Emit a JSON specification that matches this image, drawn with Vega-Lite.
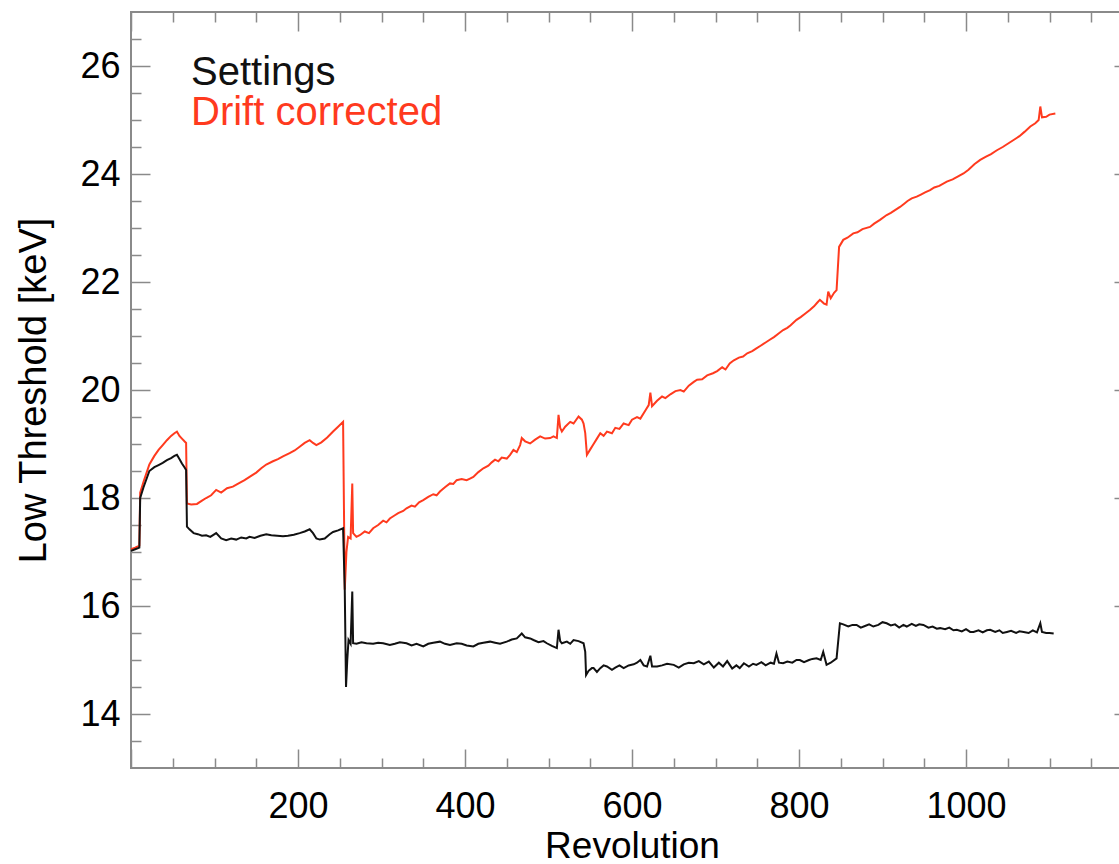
{
  "$schema": "https://vega.github.io/schema/vega-lite/v6.json",
  "width": 1002,
  "height": 756,
  "autosize": {"type": "none"},
  "padding": {"left": 131, "top": 12, "right": 0, "bottom": 96},
  "background": "white",
  "config": {
    "view": {"stroke": "#8a8a8a", "strokeWidth": 2},
    "font": "Liberation Sans",
    "axis": {"grid": false, "domain": false, "labelFont": "Liberation Sans", "titleFont": "Liberation Sans", "labelFontSize": 36, "titleFontSize": 38, "labelColor": "#000", "titleColor": "#000", "titleFontWeight": "normal", "tickColor": "#8a8a8a", "tickWidth": 1.5, "labelOverlap": false, "labelFlush": false},
    "legend": {"labelFont": "Liberation Sans"}
  },
  "data": {"values": [
    {"series":"Drift corrected","rev":0,"keV":17.05},{"series":"Drift corrected","rev":5,"keV":17.08},{"series":"Drift corrected","rev":10,"keV":17.12},{"series":"Drift corrected","rev":11,"keV":18.1},{"series":"Drift corrected","rev":15,"keV":18.3},{"series":"Drift corrected","rev":22,"keV":18.62},{"series":"Drift corrected","rev":28,"keV":18.78},{"series":"Drift corrected","rev":33,"keV":18.89},{"series":"Drift corrected","rev":38,"keV":18.98},{"series":"Drift corrected","rev":43,"keV":19.07},{"series":"Drift corrected","rev":48,"keV":19.15},{"series":"Drift corrected","rev":52,"keV":19.2},{"series":"Drift corrected","rev":55,"keV":19.23},{"series":"Drift corrected","rev":58,"keV":19.15},{"series":"Drift corrected","rev":61,"keV":19.1},{"series":"Drift corrected","rev":64,"keV":19.05},{"series":"Drift corrected","rev":66,"keV":19.02},{"series":"Drift corrected","rev":67,"keV":17.9},{"series":"Drift corrected","rev":72,"keV":17.88},{"series":"Drift corrected","rev":79,"keV":17.89},{"series":"Drift corrected","rev":85,"keV":17.95},{"series":"Drift corrected","rev":90,"keV":18.0},{"series":"Drift corrected","rev":96,"keV":18.05},{"series":"Drift corrected","rev":102,"keV":18.15},{"series":"Drift corrected","rev":108,"keV":18.1},{"series":"Drift corrected","rev":115,"keV":18.18},{"series":"Drift corrected","rev":122,"keV":18.21},{"series":"Drift corrected","rev":130,"keV":18.28},{"series":"Drift corrected","rev":136,"keV":18.33},{"series":"Drift corrected","rev":142,"keV":18.39},{"series":"Drift corrected","rev":150,"keV":18.47},{"series":"Drift corrected","rev":156,"keV":18.55},{"series":"Drift corrected","rev":162,"keV":18.62},{"series":"Drift corrected","rev":170,"keV":18.68},{"series":"Drift corrected","rev":176,"keV":18.72},{"series":"Drift corrected","rev":182,"keV":18.77},{"series":"Drift corrected","rev":190,"keV":18.83},{"series":"Drift corrected","rev":196,"keV":18.88},{"series":"Drift corrected","rev":202,"keV":18.95},{"series":"Drift corrected","rev":208,"keV":19.02},{"series":"Drift corrected","rev":214,"keV":19.07},{"series":"Drift corrected","rev":218,"keV":19.02},{"series":"Drift corrected","rev":222,"keV":18.98},{"series":"Drift corrected","rev":228,"keV":19.03},{"series":"Drift corrected","rev":235,"keV":19.12},{"series":"Drift corrected","rev":242,"keV":19.23},{"series":"Drift corrected","rev":248,"keV":19.32},{"series":"Drift corrected","rev":254,"keV":19.41},{"series":"Drift corrected","rev":256,"keV":16.3},{"series":"Drift corrected","rev":258,"keV":17.0},{"series":"Drift corrected","rev":260,"keV":17.28},{"series":"Drift corrected","rev":263,"keV":17.25},{"series":"Drift corrected","rev":265,"keV":18.27},{"series":"Drift corrected","rev":266,"keV":17.35},{"series":"Drift corrected","rev":270,"keV":17.28},{"series":"Drift corrected","rev":274,"keV":17.31},{"series":"Drift corrected","rev":280,"keV":17.38},{"series":"Drift corrected","rev":285,"keV":17.35},{"series":"Drift corrected","rev":290,"keV":17.44},{"series":"Drift corrected","rev":296,"keV":17.5},{"series":"Drift corrected","rev":302,"keV":17.58},{"series":"Drift corrected","rev":306,"keV":17.55},{"series":"Drift corrected","rev":310,"keV":17.62},{"series":"Drift corrected","rev":316,"keV":17.68},{"series":"Drift corrected","rev":320,"keV":17.72},{"series":"Drift corrected","rev":326,"keV":17.76},{"series":"Drift corrected","rev":330,"keV":17.81},{"series":"Drift corrected","rev":336,"keV":17.86},{"series":"Drift corrected","rev":340,"keV":17.84},{"series":"Drift corrected","rev":345,"keV":17.92},{"series":"Drift corrected","rev":350,"keV":17.96},{"series":"Drift corrected","rev":356,"keV":18.02},{"series":"Drift corrected","rev":362,"keV":18.07},{"series":"Drift corrected","rev":366,"keV":18.05},{"series":"Drift corrected","rev":370,"keV":18.12},{"series":"Drift corrected","rev":376,"keV":18.2},{"series":"Drift corrected","rev":382,"keV":18.27},{"series":"Drift corrected","rev":386,"keV":18.26},{"series":"Drift corrected","rev":390,"keV":18.33},{"series":"Drift corrected","rev":396,"keV":18.35},{"series":"Drift corrected","rev":402,"keV":18.33},{"series":"Drift corrected","rev":406,"keV":18.36},{"series":"Drift corrected","rev":410,"keV":18.39},{"series":"Drift corrected","rev":416,"keV":18.48},{"series":"Drift corrected","rev":422,"keV":18.55},{"series":"Drift corrected","rev":428,"keV":18.6},{"series":"Drift corrected","rev":432,"keV":18.66},{"series":"Drift corrected","rev":436,"keV":18.71},{"series":"Drift corrected","rev":440,"keV":18.68},{"series":"Drift corrected","rev":444,"keV":18.75},{"series":"Drift corrected","rev":450,"keV":18.73},{"series":"Drift corrected","rev":454,"keV":18.8},{"series":"Drift corrected","rev":458,"keV":18.89},{"series":"Drift corrected","rev":462,"keV":18.85},{"series":"Drift corrected","rev":466,"keV":18.98},{"series":"Drift corrected","rev":468,"keV":19.11},{"series":"Drift corrected","rev":472,"keV":19.05},{"series":"Drift corrected","rev":478,"keV":19.01},{"series":"Drift corrected","rev":484,"keV":19.08},{"series":"Drift corrected","rev":490,"keV":19.14},{"series":"Drift corrected","rev":496,"keV":19.1},{"series":"Drift corrected","rev":502,"keV":19.11},{"series":"Drift corrected","rev":506,"keV":19.14},{"series":"Drift corrected","rev":510,"keV":19.11},{"series":"Drift corrected","rev":512,"keV":19.54},{"series":"Drift corrected","rev":514,"keV":19.3},{"series":"Drift corrected","rev":516,"keV":19.23},{"series":"Drift corrected","rev":520,"keV":19.32},{"series":"Drift corrected","rev":526,"keV":19.41},{"series":"Drift corrected","rev":530,"keV":19.38},{"series":"Drift corrected","rev":536,"keV":19.51},{"series":"Drift corrected","rev":540,"keV":19.45},{"series":"Drift corrected","rev":542,"keV":19.38},{"series":"Drift corrected","rev":544,"keV":19.2},{"series":"Drift corrected","rev":546,"keV":18.8},{"series":"Drift corrected","rev":550,"keV":18.9},{"series":"Drift corrected","rev":554,"keV":19.0},{"series":"Drift corrected","rev":558,"keV":19.1},{"series":"Drift corrected","rev":562,"keV":19.2},{"series":"Drift corrected","rev":566,"keV":19.15},{"series":"Drift corrected","rev":570,"keV":19.23},{"series":"Drift corrected","rev":576,"keV":19.2},{"series":"Drift corrected","rev":580,"keV":19.3},{"series":"Drift corrected","rev":585,"keV":19.28},{"series":"Drift corrected","rev":590,"keV":19.38},{"series":"Drift corrected","rev":596,"keV":19.35},{"series":"Drift corrected","rev":600,"keV":19.45},{"series":"Drift corrected","rev":606,"keV":19.5},{"series":"Drift corrected","rev":610,"keV":19.47},{"series":"Drift corrected","rev":616,"keV":19.62},{"series":"Drift corrected","rev":620,"keV":19.72},{"series":"Drift corrected","rev":622,"keV":19.95},{"series":"Drift corrected","rev":624,"keV":19.7},{"series":"Drift corrected","rev":630,"keV":19.8},{"series":"Drift corrected","rev":636,"keV":19.88},{"series":"Drift corrected","rev":640,"keV":19.85},{"series":"Drift corrected","rev":646,"keV":19.92},{"series":"Drift corrected","rev":652,"keV":19.98},{"series":"Drift corrected","rev":658,"keV":20.0},{"series":"Drift corrected","rev":662,"keV":19.97},{"series":"Drift corrected","rev":668,"keV":20.08},{"series":"Drift corrected","rev":674,"keV":20.15},{"series":"Drift corrected","rev":678,"keV":20.19},{"series":"Drift corrected","rev":684,"keV":20.2},{"series":"Drift corrected","rev":690,"keV":20.27},{"series":"Drift corrected","rev":697,"keV":20.31},{"series":"Drift corrected","rev":702,"keV":20.35},{"series":"Drift corrected","rev":708,"keV":20.42},{"series":"Drift corrected","rev":712,"keV":20.38},{"series":"Drift corrected","rev":717,"keV":20.49},{"series":"Drift corrected","rev":722,"keV":20.55},{"series":"Drift corrected","rev":728,"keV":20.6},{"series":"Drift corrected","rev":733,"keV":20.62},{"series":"Drift corrected","rev":738,"keV":20.68},{"series":"Drift corrected","rev":744,"keV":20.72},{"series":"Drift corrected","rev":749,"keV":20.77},{"series":"Drift corrected","rev":754,"keV":20.82},{"series":"Drift corrected","rev":760,"keV":20.88},{"series":"Drift corrected","rev":765,"keV":20.93},{"series":"Drift corrected","rev":770,"keV":20.98},{"series":"Drift corrected","rev":776,"keV":21.05},{"series":"Drift corrected","rev":781,"keV":21.11},{"series":"Drift corrected","rev":786,"keV":21.15},{"series":"Drift corrected","rev":790,"keV":21.2},{"series":"Drift corrected","rev":797,"keV":21.3},{"series":"Drift corrected","rev":802,"keV":21.35},{"series":"Drift corrected","rev":808,"keV":21.42},{"series":"Drift corrected","rev":813,"keV":21.48},{"series":"Drift corrected","rev":818,"keV":21.55},{"series":"Drift corrected","rev":822,"keV":21.62},{"series":"Drift corrected","rev":825,"keV":21.67},{"series":"Drift corrected","rev":830,"keV":21.6},{"series":"Drift corrected","rev":833,"keV":21.58},{"series":"Drift corrected","rev":835,"keV":21.82},{"series":"Drift corrected","rev":838,"keV":21.7},{"series":"Drift corrected","rev":842,"keV":21.8},{"series":"Drift corrected","rev":845,"keV":21.85},{"series":"Drift corrected","rev":848,"keV":22.65},{"series":"Drift corrected","rev":853,"keV":22.78},{"series":"Drift corrected","rev":858,"keV":22.82},{"series":"Drift corrected","rev":865,"keV":22.9},{"series":"Drift corrected","rev":870,"keV":22.92},{"series":"Drift corrected","rev":876,"keV":22.98},{"series":"Drift corrected","rev":885,"keV":23.02},{"series":"Drift corrected","rev":890,"keV":23.08},{"series":"Drift corrected","rev":897,"keV":23.15},{"series":"Drift corrected","rev":905,"keV":23.24},{"series":"Drift corrected","rev":910,"keV":23.28},{"series":"Drift corrected","rev":915,"keV":23.33},{"series":"Drift corrected","rev":921,"keV":23.39},{"series":"Drift corrected","rev":926,"keV":23.45},{"series":"Drift corrected","rev":930,"keV":23.5},{"series":"Drift corrected","rev":935,"keV":23.55},{"series":"Drift corrected","rev":941,"keV":23.58},{"series":"Drift corrected","rev":946,"keV":23.62},{"series":"Drift corrected","rev":951,"keV":23.66},{"series":"Drift corrected","rev":957,"keV":23.7},{"series":"Drift corrected","rev":962,"keV":23.75},{"series":"Drift corrected","rev":968,"keV":23.78},{"series":"Drift corrected","rev":977,"keV":23.86},{"series":"Drift corrected","rev":984,"keV":23.9},{"series":"Drift corrected","rev":990,"keV":23.95},{"series":"Drift corrected","rev":997,"keV":24.01},{"series":"Drift corrected","rev":1003,"keV":24.08},{"series":"Drift corrected","rev":1010,"keV":24.18},{"series":"Drift corrected","rev":1017,"keV":24.26},{"series":"Drift corrected","rev":1024,"keV":24.32},{"series":"Drift corrected","rev":1030,"keV":24.37},{"series":"Drift corrected","rev":1037,"keV":24.44},{"series":"Drift corrected","rev":1044,"keV":24.5},{"series":"Drift corrected","rev":1050,"keV":24.56},{"series":"Drift corrected","rev":1057,"keV":24.63},{"series":"Drift corrected","rev":1064,"keV":24.7},{"series":"Drift corrected","rev":1070,"keV":24.78},{"series":"Drift corrected","rev":1077,"keV":24.88},{"series":"Drift corrected","rev":1083,"keV":24.94},{"series":"Drift corrected","rev":1087,"keV":25.0},{"series":"Drift corrected","rev":1089,"keV":25.25},{"series":"Drift corrected","rev":1091,"keV":25.05},{"series":"Drift corrected","rev":1096,"keV":25.06},{"series":"Drift corrected","rev":1100,"keV":25.1},{"series":"Drift corrected","rev":1107,"keV":25.12},
    {"series":"Settings","rev":0,"keV":17.02},{"series":"Settings","rev":5,"keV":17.05},{"series":"Settings","rev":10,"keV":17.08},{"series":"Settings","rev":11,"keV":18.0},{"series":"Settings","rev":15,"keV":18.2},{"series":"Settings","rev":22,"keV":18.5},{"series":"Settings","rev":28,"keV":18.57},{"series":"Settings","rev":33,"keV":18.61},{"series":"Settings","rev":38,"keV":18.65},{"series":"Settings","rev":43,"keV":18.7},{"series":"Settings","rev":48,"keV":18.74},{"series":"Settings","rev":52,"keV":18.78},{"series":"Settings","rev":55,"keV":18.8},{"series":"Settings","rev":58,"keV":18.72},{"series":"Settings","rev":61,"keV":18.64},{"series":"Settings","rev":64,"keV":18.57},{"series":"Settings","rev":66,"keV":18.52},{"series":"Settings","rev":67,"keV":17.47},{"series":"Settings","rev":70,"keV":17.42},{"series":"Settings","rev":75,"keV":17.35},{"series":"Settings","rev":80,"keV":17.33},{"series":"Settings","rev":85,"keV":17.3},{"series":"Settings","rev":90,"keV":17.31},{"series":"Settings","rev":95,"keV":17.28},{"series":"Settings","rev":102,"keV":17.35},{"series":"Settings","rev":108,"keV":17.25},{"series":"Settings","rev":114,"keV":17.22},{"series":"Settings","rev":120,"keV":17.25},{"series":"Settings","rev":126,"keV":17.23},{"series":"Settings","rev":132,"keV":17.27},{"series":"Settings","rev":138,"keV":17.25},{"series":"Settings","rev":142,"keV":17.28},{"series":"Settings","rev":148,"keV":17.26},{"series":"Settings","rev":155,"keV":17.3},{"series":"Settings","rev":162,"keV":17.33},{"series":"Settings","rev":168,"keV":17.31},{"series":"Settings","rev":175,"keV":17.3},{"series":"Settings","rev":182,"keV":17.29},{"series":"Settings","rev":188,"keV":17.3},{"series":"Settings","rev":195,"keV":17.32},{"series":"Settings","rev":202,"keV":17.35},{"series":"Settings","rev":208,"keV":17.38},{"series":"Settings","rev":214,"keV":17.42},{"series":"Settings","rev":218,"keV":17.35},{"series":"Settings","rev":222,"keV":17.25},{"series":"Settings","rev":226,"keV":17.23},{"series":"Settings","rev":232,"keV":17.25},{"series":"Settings","rev":238,"keV":17.33},{"series":"Settings","rev":242,"keV":17.37},{"series":"Settings","rev":248,"keV":17.4},{"series":"Settings","rev":254,"keV":17.44},{"series":"Settings","rev":256,"keV":16.3},{"series":"Settings","rev":257.5,"keV":14.5},{"series":"Settings","rev":259,"keV":15.0},{"series":"Settings","rev":260.5,"keV":15.37},{"series":"Settings","rev":263,"keV":15.3},{"series":"Settings","rev":265,"keV":16.27},{"series":"Settings","rev":266,"keV":15.31},{"series":"Settings","rev":270,"keV":15.3},{"series":"Settings","rev":276,"keV":15.33},{"series":"Settings","rev":282,"keV":15.31},{"series":"Settings","rev":290,"keV":15.3},{"series":"Settings","rev":296,"keV":15.32},{"series":"Settings","rev":302,"keV":15.31},{"series":"Settings","rev":310,"keV":15.28},{"series":"Settings","rev":316,"keV":15.3},{"series":"Settings","rev":322,"keV":15.33},{"series":"Settings","rev":330,"keV":15.31},{"series":"Settings","rev":336,"keV":15.27},{"series":"Settings","rev":342,"keV":15.3},{"series":"Settings","rev":350,"keV":15.25},{"series":"Settings","rev":356,"keV":15.3},{"series":"Settings","rev":362,"keV":15.32},{"series":"Settings","rev":370,"keV":15.34},{"series":"Settings","rev":376,"keV":15.3},{"series":"Settings","rev":382,"keV":15.28},{"series":"Settings","rev":390,"keV":15.31},{"series":"Settings","rev":396,"keV":15.3},{"series":"Settings","rev":402,"keV":15.27},{"series":"Settings","rev":410,"keV":15.25},{"series":"Settings","rev":416,"keV":15.3},{"series":"Settings","rev":422,"keV":15.32},{"series":"Settings","rev":430,"keV":15.34},{"series":"Settings","rev":436,"keV":15.32},{"series":"Settings","rev":442,"keV":15.3},{"series":"Settings","rev":450,"keV":15.34},{"series":"Settings","rev":456,"keV":15.38},{"series":"Settings","rev":462,"keV":15.4},{"series":"Settings","rev":468,"keV":15.49},{"series":"Settings","rev":472,"keV":15.42},{"series":"Settings","rev":478,"keV":15.4},{"series":"Settings","rev":482,"keV":15.37},{"series":"Settings","rev":488,"keV":15.33},{"series":"Settings","rev":494,"keV":15.35},{"series":"Settings","rev":498,"keV":15.31},{"series":"Settings","rev":504,"keV":15.26},{"series":"Settings","rev":510,"keV":15.22},{"series":"Settings","rev":512,"keV":15.56},{"series":"Settings","rev":514,"keV":15.35},{"series":"Settings","rev":516,"keV":15.31},{"series":"Settings","rev":522,"keV":15.34},{"series":"Settings","rev":526,"keV":15.3},{"series":"Settings","rev":530,"keV":15.37},{"series":"Settings","rev":536,"keV":15.35},{"series":"Settings","rev":542,"keV":15.31},{"series":"Settings","rev":544,"keV":15.15},{"series":"Settings","rev":545,"keV":14.72},{"series":"Settings","rev":548,"keV":14.8},{"series":"Settings","rev":552,"keV":14.85},{"series":"Settings","rev":554,"keV":14.85},{"series":"Settings","rev":558,"keV":14.78},{"series":"Settings","rev":562,"keV":14.85},{"series":"Settings","rev":566,"keV":14.9},{"series":"Settings","rev":570,"keV":14.88},{"series":"Settings","rev":576,"keV":14.82},{"series":"Settings","rev":580,"keV":14.86},{"series":"Settings","rev":585,"keV":14.9},{"series":"Settings","rev":590,"keV":14.85},{"series":"Settings","rev":596,"keV":14.9},{"series":"Settings","rev":602,"keV":14.92},{"series":"Settings","rev":606,"keV":14.95},{"series":"Settings","rev":610,"keV":15.0},{"series":"Settings","rev":614,"keV":14.9},{"series":"Settings","rev":618,"keV":14.88},{"series":"Settings","rev":622,"keV":15.08},{"series":"Settings","rev":624,"keV":14.88},{"series":"Settings","rev":630,"keV":14.88},{"series":"Settings","rev":636,"keV":14.9},{"series":"Settings","rev":642,"keV":14.93},{"series":"Settings","rev":650,"keV":14.91},{"series":"Settings","rev":656,"keV":14.86},{"series":"Settings","rev":662,"keV":14.92},{"series":"Settings","rev":668,"keV":14.95},{"series":"Settings","rev":674,"keV":14.94},{"series":"Settings","rev":680,"keV":14.98},{"series":"Settings","rev":686,"keV":14.92},{"series":"Settings","rev":692,"keV":14.97},{"series":"Settings","rev":698,"keV":14.86},{"series":"Settings","rev":704,"keV":14.95},{"series":"Settings","rev":709,"keV":14.88},{"series":"Settings","rev":714,"keV":14.98},{"series":"Settings","rev":720,"keV":14.84},{"series":"Settings","rev":725,"keV":14.9},{"series":"Settings","rev":729,"keV":14.85},{"series":"Settings","rev":734,"keV":14.94},{"series":"Settings","rev":740,"keV":14.88},{"series":"Settings","rev":745,"keV":14.93},{"series":"Settings","rev":749,"keV":14.91},{"series":"Settings","rev":755,"keV":14.96},{"series":"Settings","rev":760,"keV":14.9},{"series":"Settings","rev":766,"keV":14.95},{"series":"Settings","rev":770,"keV":14.93},{"series":"Settings","rev":773,"keV":15.12},{"series":"Settings","rev":776,"keV":14.95},{"series":"Settings","rev":781,"keV":14.94},{"series":"Settings","rev":786,"keV":14.97},{"series":"Settings","rev":792,"keV":14.95},{"series":"Settings","rev":797,"keV":15.0},{"series":"Settings","rev":801,"keV":15.0},{"series":"Settings","rev":806,"keV":14.96},{"series":"Settings","rev":812,"keV":15.0},{"series":"Settings","rev":816,"keV":15.02},{"series":"Settings","rev":821,"keV":15.03},{"series":"Settings","rev":826,"keV":15.0},{"series":"Settings","rev":829,"keV":15.15},{"series":"Settings","rev":833,"keV":14.91},{"series":"Settings","rev":838,"keV":14.95},{"series":"Settings","rev":845,"keV":15.03},{"series":"Settings","rev":849,"keV":15.68},{"series":"Settings","rev":853,"keV":15.66},{"series":"Settings","rev":859,"keV":15.62},{"series":"Settings","rev":864,"keV":15.65},{"series":"Settings","rev":869,"keV":15.65},{"series":"Settings","rev":874,"keV":15.6},{"series":"Settings","rev":879,"keV":15.63},{"series":"Settings","rev":884,"keV":15.66},{"series":"Settings","rev":889,"keV":15.62},{"series":"Settings","rev":895,"keV":15.65},{"series":"Settings","rev":900,"keV":15.7},{"series":"Settings","rev":905,"keV":15.68},{"series":"Settings","rev":910,"keV":15.64},{"series":"Settings","rev":915,"keV":15.66},{"series":"Settings","rev":920,"keV":15.6},{"series":"Settings","rev":925,"keV":15.65},{"series":"Settings","rev":929,"keV":15.62},{"series":"Settings","rev":935,"keV":15.67},{"series":"Settings","rev":940,"keV":15.63},{"series":"Settings","rev":944,"keV":15.66},{"series":"Settings","rev":949,"keV":15.65},{"series":"Settings","rev":955,"keV":15.6},{"series":"Settings","rev":960,"keV":15.62},{"series":"Settings","rev":965,"keV":15.58},{"series":"Settings","rev":969,"keV":15.59},{"series":"Settings","rev":975,"keV":15.57},{"series":"Settings","rev":980,"keV":15.6},{"series":"Settings","rev":985,"keV":15.55},{"series":"Settings","rev":989,"keV":15.56},{"series":"Settings","rev":995,"keV":15.53},{"series":"Settings","rev":1000,"keV":15.57},{"series":"Settings","rev":1005,"keV":15.52},{"series":"Settings","rev":1009,"keV":15.52},{"series":"Settings","rev":1015,"keV":15.55},{"series":"Settings","rev":1020,"keV":15.51},{"series":"Settings","rev":1025,"keV":15.55},{"series":"Settings","rev":1029,"keV":15.56},{"series":"Settings","rev":1035,"keV":15.52},{"series":"Settings","rev":1040,"keV":15.55},{"series":"Settings","rev":1044,"keV":15.5},{"series":"Settings","rev":1049,"keV":15.52},{"series":"Settings","rev":1054,"keV":15.54},{"series":"Settings","rev":1060,"keV":15.5},{"series":"Settings","rev":1064,"keV":15.53},{"series":"Settings","rev":1069,"keV":15.52},{"series":"Settings","rev":1075,"keV":15.5},{"series":"Settings","rev":1080,"keV":15.55},{"series":"Settings","rev":1085,"keV":15.51},{"series":"Settings","rev":1089,"keV":15.68},{"series":"Settings","rev":1091,"keV":15.52},{"series":"Settings","rev":1096,"keV":15.5},{"series":"Settings","rev":1100,"keV":15.5},{"series":"Settings","rev":1105,"keV":15.49}
  ]},
  "resolve": {"axis": {"x": "independent", "y": "independent"}},
  "layer": [
    {
      "mark": {"type": "line", "strokeWidth": 2, "interpolate": "linear"},
      "encoding": {
        "x": {"field": "rev", "type": "quantitative", "scale": {"domain": [0, 1200], "nice": false, "zero": false},
          "axis": {"orient": "bottom", "values": [200, 400, 600, 800, 1000], "format": "d", "ticks": false, "labelPadding": 21, "title": "Revolution", "titleX": 501, "titleY": 89, "titleBaseline": "alphabetic", "titleAlign": "center", "titleAngle": 0, "titleFontSize": 37}},
        "y": {"field": "keV", "type": "quantitative", "scale": {"domain": [13, 27], "nice": false, "zero": false},
          "axis": {"orient": "left", "values": [14, 16, 18, 20, 22, 24, 26], "format": "d", "ticks": false, "labelPadding": 11, "title": "Low Threshold [keV]", "titleX": -86, "titleY": 378, "titleBaseline": "alphabetic", "titleAlign": "center", "titleAngle": 270}},
        "color": {"field": "series", "type": "nominal",
          "scale": {"domain": ["Settings", "Drift corrected"], "range": ["#111111", "#ff3a1e"]},
          "legend": {"orient": "none", "legendX": 20, "legendY": 41, "title": null, "padding": 0, "symbolSize": 0, "symbolStrokeWidth": 0, "symbolOpacity": 0, "labelOffset": 0, "labelFontSize": 40, "labelLimit": 500, "rowPadding": -1,
            "encode": {"labels": {"update": {"fill": {"scale": "color", "field": "value"}}}}}}
      }
    },
    {
      "mark": {"type": "point", "opacity": 0},
      "encoding": {
        "x": {"field": "rev", "type": "quantitative", "scale": {"domain": [0, 1200], "nice": false, "zero": false},
          "axis": {"orient": "bottom", "values": [0, 200, 400, 600, 800, 1000, 1200], "labels": false, "tickSize": -19, "title": null}},
        "y": {"field": "keV", "type": "quantitative", "scale": {"domain": [13, 27], "nice": false, "zero": false},
          "axis": {"orient": "left", "values": [14, 16, 18, 20, 22, 24, 26], "labels": false, "tickSize": -19, "title": null}}
      }
    },
    {
      "mark": {"type": "point", "opacity": 0},
      "encoding": {
        "x": {"field": "rev", "type": "quantitative", "scale": {"domain": [0, 1200], "nice": false, "zero": false},
          "axis": {"orient": "bottom", "values": [50, 100, 150, 250, 300, 350, 450, 500, 550, 650, 700, 750, 850, 900, 950, 1050, 1100, 1150], "labels": false, "tickSize": -10, "title": null}},
        "y": {"field": "keV", "type": "quantitative", "scale": {"domain": [13, 27], "nice": false, "zero": false},
          "axis": {"orient": "left", "values": [13.5, 14.5, 15, 15.5, 16.5, 17, 17.5, 18.5, 19, 19.5, 20.5, 21, 21.5, 22.5, 23, 23.5, 24.5, 25, 25.5, 26.5], "labels": false, "tickSize": -10, "title": null}}
      }
    },
    {
      "mark": {"type": "point", "opacity": 0},
      "encoding": {
        "x": {"field": "rev", "type": "quantitative", "scale": {"domain": [0, 1200], "nice": false, "zero": false},
          "axis": {"orient": "top", "values": [0, 200, 400, 600, 800, 1000, 1200], "labels": false, "tickSize": -19, "title": null}},
        "y": {"field": "keV", "type": "quantitative", "scale": {"domain": [13, 27], "nice": false, "zero": false},
          "axis": {"orient": "right", "values": [14, 16, 18, 20, 22, 24, 26], "labels": false, "tickSize": -19, "title": null}}
      }
    },
    {
      "mark": {"type": "point", "opacity": 0},
      "encoding": {
        "x": {"field": "rev", "type": "quantitative", "scale": {"domain": [0, 1200], "nice": false, "zero": false},
          "axis": {"orient": "top", "values": [50, 100, 150, 250, 300, 350, 450, 500, 550, 650, 700, 750, 850, 900, 950, 1050, 1100, 1150], "labels": false, "tickSize": -10, "title": null}},
        "y": {"field": "keV", "type": "quantitative", "scale": {"domain": [13, 27], "nice": false, "zero": false},
          "axis": {"orient": "right", "values": [13.5, 14.5, 15, 15.5, 16.5, 17, 17.5, 18.5, 19, 19.5, 20.5, 21, 21.5, 22.5, 23, 23.5, 24.5, 25, 25.5, 26.5], "labels": false, "tickSize": -10, "title": null}}
      }
    }
  ]
}
